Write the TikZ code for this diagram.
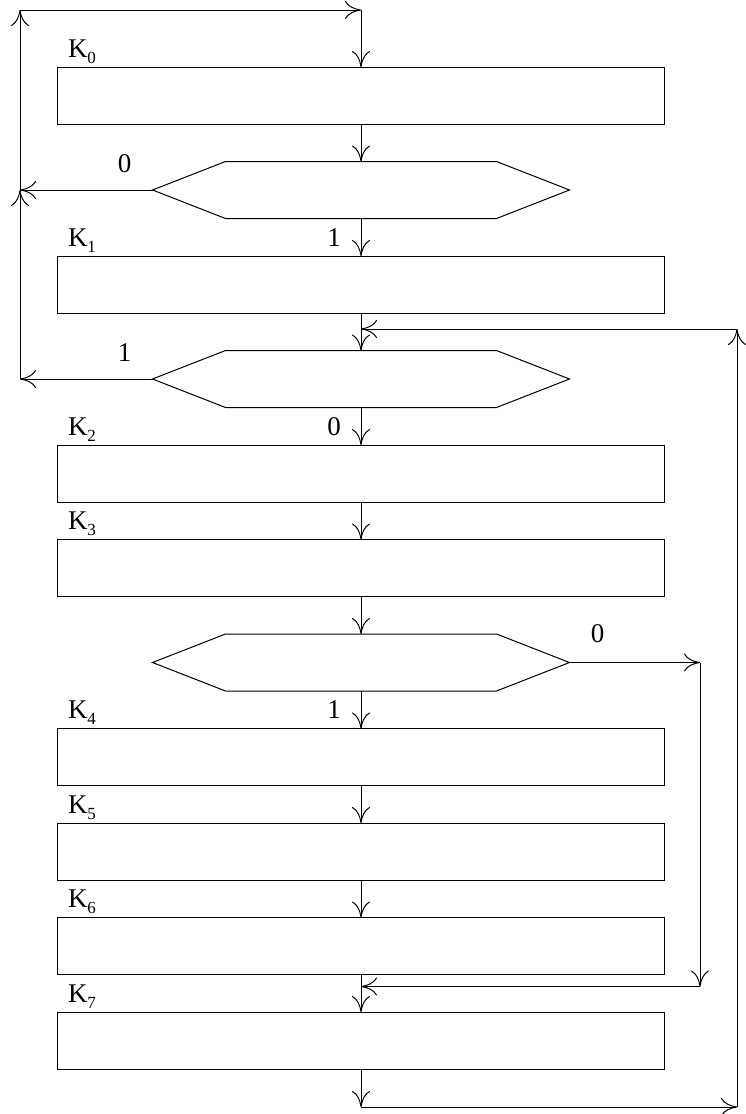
\documentclass[tikz,border=0pt]{standalone}
\usepackage{fontspec}
\setmainfont{Liberation Serif}
\usetikzlibrary{arrows.meta, positioning, calc}

\newcommand{\kidx}[1]{K\raisebox{-6pt}{\fontsize{17pt}{17pt}\selectfont #1}}

\begin{document}
\begin{tikzpicture}[
    x=1pt, y=1pt,
    node distance=37.5pt,
    line width=1pt,
    box/.style={draw, minimum width=607pt, minimum height=57pt, inner sep=0pt, outer sep=0pt},
    test/.style={minimum width=417pt, minimum height=57pt, inner sep=0pt, outer sep=0pt},
    klab/.style={anchor=base west, inner sep=0pt, font=\fontsize{27pt}{27pt}\selectfont},
    blab/.style={anchor=base, inner sep=0pt, font=\fontsize{27pt}{27pt}\selectfont},
    arrow/.style={-{To[length=16pt,width=18pt]}}
]
    \useasboundingbox (0,0) rectangle (745,-1114);

    % blocks and tests, top to bottom
    \node[box] (k0) at (361,-95.5) {};
    \node[test, below=of k0] (d0) {};
    \node[box, below=of d0] (k1) {};
    \node[test, below=of k1] (d1) {};
    \node[box, below=of d1] (k2) {};
    \node[box, below=of k2] (k3) {};
    \node[test, below=of k3] (d2) {};
    \node[box, below=of d2] (k4) {};
    \node[box, below=of k4] (k5) {};
    \node[box, below=of k5] (k6) {};
    \node[box, below=of k6] (k7) {};

    % hexagons for the tests
    \foreach \d in {d0,d1,d2}
        \draw (\d.west) -- ($(\d.north west)+(73,0)$) -- ($(\d.north east)+(-73,0)$)
            -- (\d.east) -- ($(\d.south east)+(-73,0)$) -- ($(\d.south west)+(73,0)$) -- cycle;

    % block names
    \foreach \i in {0,...,7}
        \node[klab] (k\i lab) at ($(k\i.north west)+(10,10)$) {\kidx{\i}};

    % turning points
    \coordinate (lt) at (20,-10);
    \coordinate (ct) at (lt -| k0.north);
    \coordinate (l0) at (lt |- d0.west);
    \coordinate (l1) at (lt |- d1.west);
    \coordinate (rx) at (700,0);
    \coordinate (ry) at (737,0);
    \coordinate (r2) at (d2.east -| rx);
    \coordinate (j7) at ($(k6.south)+(0,-12)$);
    \coordinate (r7) at (j7 -| rx);
    \coordinate (j1) at ($(k1.south)+(0,-16)$);
    \coordinate (rt) at (j1 -| ry);
    \coordinate (b7) at ($(k7.south)+(0,-38)$);
    \coordinate (rb) at (b7 -| ry);

    % main line
    \draw[arrow] (ct) -- (k0.north);
    \draw[arrow] (k0) -- (d0);
    \draw[arrow] (d0) -- (k1);
    \draw[arrow] (k1) -- (d1);
    \draw[arrow] (d1) -- (k2);
    \draw[arrow] (k2) -- (k3);
    \draw[arrow] (k3) -- (d2);
    \draw[arrow] (d2) -- (k4);
    \draw[arrow] (k4) -- (k5);
    \draw[arrow] (k5) -- (k6);
    \draw[arrow] (k6) -- (k7);
    \draw[arrow] (k7) -- (b7);

    % left loop
    \draw[arrow] (d0.west) -- (l0);
    \draw[arrow] (d1.west) -- (l1);
    \draw[arrow] (l1) -- (l0);
    \draw[arrow] (l0) -- (lt);
    \draw[arrow] (lt) -- (ct);

    % right loops
    \draw[arrow] (d2.east) -- (r2);
    \draw[arrow] (r2) -- (r7);
    \draw[arrow] (r7) -- (j7);
    \draw[arrow] (b7) -- (rb);
    \draw[arrow] (rb) -- (rt);
    \draw[arrow] (rt) -- (j1);

    % branch values
    \node[blab] (d0no) at ($(d0.west)+(-28,18)$) {0};
    \node[blab] (d0yes) at ($(k1.north)+(-27,10)$) {1};
    \node[blab] (d1yes) at ($(d1.west)+(-28,18)$) {1};
    \node[blab] (d1no) at ($(k2.north)+(-27,10)$) {0};
    \node[blab] (d2no) at ($(d2.east)+(28,20)$) {0};
    \node[blab] (d2yes) at ($(k4.north)+(-27,10)$) {1};
\end{tikzpicture}
\end{document}
